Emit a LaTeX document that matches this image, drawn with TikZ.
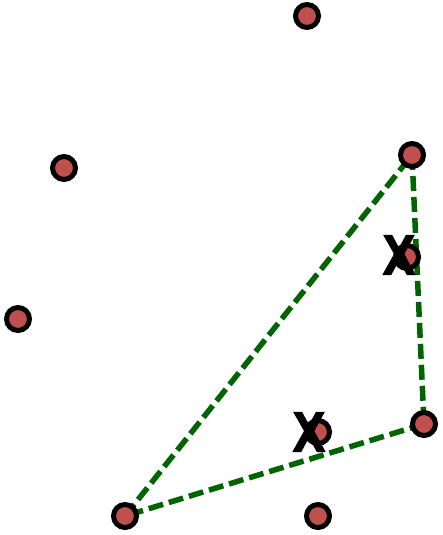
\documentclass[tikz,border=0pt]{standalone}
\usepackage{fontspec}
\setsansfont{Liberation Sans}
\newfontfamily\markfont[FakeBold=3]{Liberation Sans Bold}
\definecolor{ptred}{HTML}{C0504D}
\definecolor{edgegreen}{HTML}{006400}
\begin{document}
\begin{tikzpicture}[x=1pt,y=-1pt,
pt/.style={circle,draw,line width=5pt,fill=ptred,minimum size=23pt,inner sep=0pt},
edge/.style={line width=5.5pt,draw=edgegreen,dash pattern=on 15pt off 6pt},
xmark/.style={font=\markfont\fontsize{56}{56}\selectfont,inner sep=0pt,xscale=0.85}]
\useasboundingbox (0,0) rectangle (442,535);
% triangle first, points over it
\path (125,516) coordinate (hc) (412,155) coordinate (cc) (424,424) coordinate (fc);
\draw[edge] (hc)--(cc);
\draw[edge] (cc)--(fc);
\draw[edge] (fc)--(hc);
% points
\node[pt] (a) at (307,16) {};
\node[pt] (b) at (64,168) {};
\node[pt] (c) at (cc) {};
\node[pt] (d) at (18,319) {};
\node[pt] (e) at (407,257) {};
\node[pt] (f) at (fc) {};
\node[pt] (g) at (318,432) {};
\node[pt] (h) at (hc) {};
\node[pt] (i) at (318,516) {};
% marks
\node[xmark] (xe) at (399,255) {X};
\node[xmark] (xg) at (309,432) {X};
\end{tikzpicture}
\end{document}
